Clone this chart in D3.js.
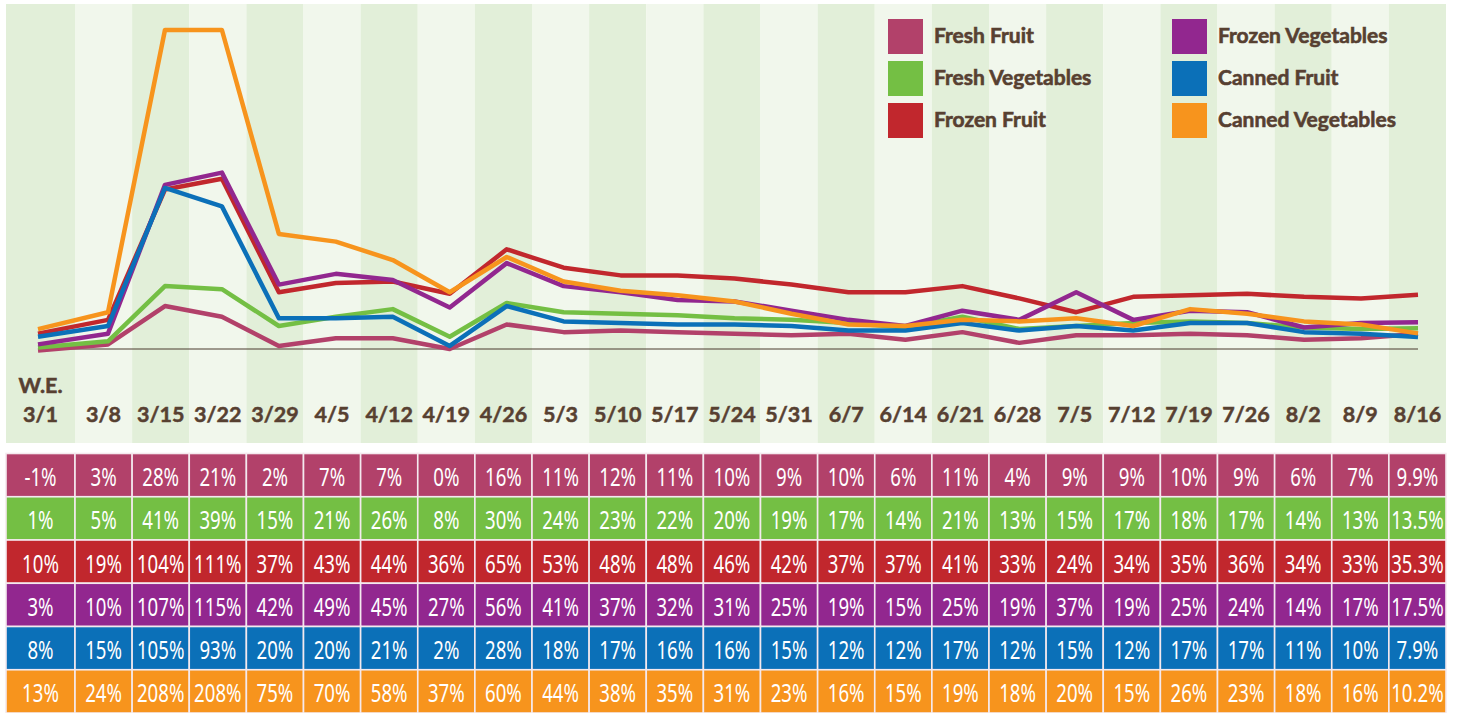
<!DOCTYPE html>
<html>
<head>
<meta charset="utf-8">
<style>
  body { margin: 0; background: #fff; }
  svg { display: block; }
</style>
</head>
<body>
<svg width="1459" height="713"></svg>
<script src="https://d3js.org/d3.v7.min.js"></script>
<script>
// week-ending dates
var weeks = ["3/1","3/8","3/15","3/22","3/29","4/5","4/12","4/19","4/26","5/3","5/10","5/17","5/24",
             "5/31","6/7","6/14","6/21","6/28","7/5","7/12","7/19","7/26","8/2","8/9","8/16"];

var seriesNames = ["Fresh Fruit","Fresh Vegetables","Frozen Fruit","Frozen Vegetables","Canned Fruit","Canned Vegetables"];

// % change vs. year ago
var freshFruit  = [-1,3,28,21,2,7,7,0,16,11,12,11,10,9,10,6,11,4,9,9,10,9,6,7,9.9];
var freshVeg    = [1,5,41,39,15,21,26,8,30,24,23,22,20,19,17,14,21,13,15,17,18,17,14,13,13.5];
var frozenFruit = [10,19,104,111,37,43,44,36,65,53,48,48,46,42,37,37,41,33,24,34,35,36,34,33,35.3];
var frozenVeg   = [3,10,107,115,42,49,45,27,56,41,37,32,31,25,19,15,25,19,37,19,25,24,14,17,17.5];
var cannedFruit = [8,15,105,93,20,20,21,2,28,18,17,16,16,15,12,12,17,12,15,12,17,17,11,10,7.9];
var cannedVeg   = [13,24,208,208,75,70,58,37,60,44,38,35,31,23,16,15,19,18,20,15,26,23,18,16,10.2];

var colors = ["#b2416a","#74bf44","#c1272d","#92278f","#0b70b8","#f7941d"];

var svg = d3.select("svg"),
    ink = "#574031";

var series = [freshFruit, freshVeg, frozenFruit, frozenVeg, cannedFruit, cannedVeg].map(function(v, i) {
  return { name: seriesNames[i], values: v, color: colors[i] };
});

// column bands: the first week column is a little wider than the rest
var colLeft = 6, firstRight = 75, colRight = 1446;
var band = d3.scaleBand().domain(weeks.slice(1)).range([firstRight, colRight]).paddingInner(0);
function colX0(i) { return i == 0 ? colLeft : band(weeks[i]); }
function colW(i) { return i == 0 ? firstRight - colLeft : band.bandwidth(); }
function colMid(i) { return colX0(i) + colW(i) / 2; }

// line point positions
var x = d3.scaleLinear().domain([0, 1, weeks.length - 1]).range([38, 108, 1418]);
var y = d3.scaleLinear().domain([0, 208]).range([349, 30]);

// striped background
svg.append("g").selectAll("rect")
  .data(weeks)
  .join("rect")
  .attr("x", function(d, i) { return colX0(i); })
  .attr("y", 4)
  .attr("width", function(d, i) { return colW(i); })
  .attr("height", 439)
  .attr("fill", function(d, i) { return i % 2 == 0 ? "#e2efd9" : "#f1f7ec"; });

// zero line
svg.append("line")
  .attr("x1", x(0)).attr("x2", x(weeks.length - 1))
  .attr("y1", y(0)).attr("y2", y(0))
  .attr("stroke", "#4b3b2e").attr("stroke-width", 1);

var line = d3.line()
  .x(function(d, i) { return x(i); })
  .y(function(d) { return y(d); });

svg.append("g").selectAll("path")
  .data(series)
  .join("path")
  .attr("d", function(d) { return line(d.values); })
  .attr("fill", "none")
  .attr("stroke", function(d) { return d.color; })
  .attr("stroke-width", 4.5)
  .attr("stroke-linejoin", "round");

// squeeze text horizontally (stand-in for a condensed face)
function squeeze(sel, k) {
  sel.each(function() {
    var len = this.getComputedTextLength();
    d3.select(this).attr("textLength", len * k).attr("lengthAdjust", "spacingAndGlyphs");
  });
}

// week labels
var labels = svg.append("g")
  .attr("font-family", "Lato, 'Open Sans', sans-serif")
  .attr("font-weight", "bold")
  .attr("font-size", 21.5)
  .attr("fill", ink)
  .attr("stroke", ink)
  .attr("stroke-width", 0.5)
  .attr("text-anchor", "middle");

labels.selectAll("text")
  .data(weeks)
  .join("text")
  .attr("x", function(d, i) { return colMid(i); })
  .attr("y", 422)
  .text(function(d) { return d; });

labels.append("text")
  .attr("x", colMid(0))
  .attr("y", 393)
  .text("W.E.");

// legend
var legend = svg.append("g")
  .attr("font-family", "Lato, 'Open Sans', sans-serif")
  .attr("font-weight", "bold")
  .attr("font-size", 21)
  .attr("fill", ink)
  .attr("stroke", ink)
  .attr("stroke-width", 0.6);

var legItems = legend.selectAll("g")
  .data(series)
  .join("g")
  .attr("transform", function(d, i) {
    var lx = i < 3 ? 888 : 1172;
    var ly = 19 + (i % 3) * 42;
    return "translate(" + lx + "," + ly + ")";
  });

legItems.append("rect")
  .attr("width", 35).attr("height", 35)
  .attr("stroke", "none")
  .attr("fill", function(d) { return d.color; });

legItems.append("text")
  .attr("x", 46)
  .attr("y", 24)
  .text(function(d) { return d.name; });

// table
var rowTop = 453.5, rowH = 43.25;
var table = svg.append("g");

var rows = table.selectAll("g")
  .data(series)
  .join("g")
  .attr("transform", function(d, i) { return "translate(0," + (rowTop + i * rowH) + ")"; });

rows.selectAll("rect")
  .data(function(d) { return d.values.map(function(v) { return { v: v, color: d.color }; }); })
  .join("rect")
  .attr("x", function(d, i) { return colX0(i); })
  .attr("width", function(d, i) { return colW(i); })
  .attr("height", rowH)
  .attr("fill", function(d) { return d.color; })
  .attr("stroke", "#f4e9ee")
  .attr("stroke-width", 1.6);

var cellText = rows.selectAll("text")
  .data(function(d) { return d.values; })
  .join("text")
  .attr("x", function(d, i) { return colMid(i); })
  .attr("y", 32.5)
  .attr("text-anchor", "middle")
  .attr("font-family", "'Noto Sans', sans-serif")
  .attr("font-size", 25.5)
  .attr("fill", "#fff")
  .text(function(d) { return d + "%"; });

squeeze(cellText, 0.73);
</script>
</body>
</html>
